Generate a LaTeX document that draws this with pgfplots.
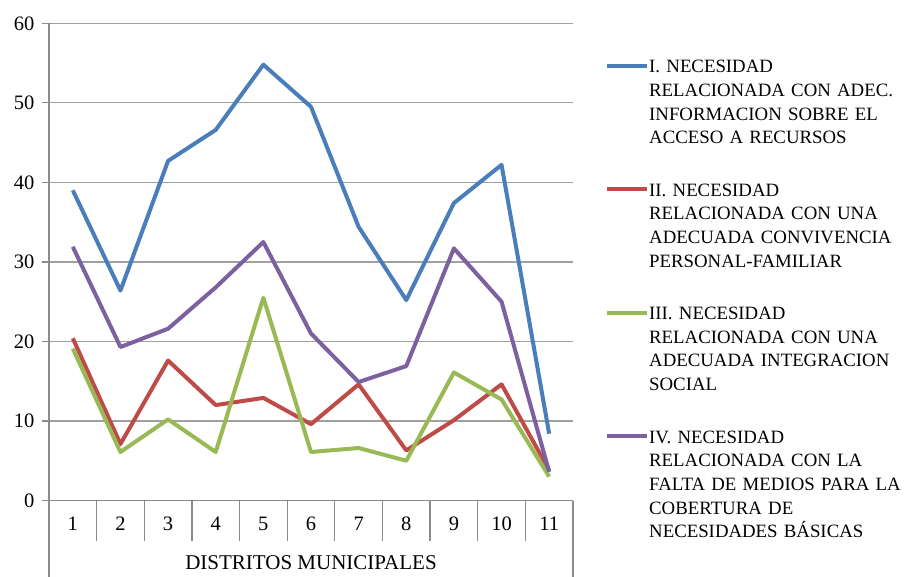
\documentclass[border=0pt]{standalone}
\usepackage{pgfplots}
\pgfplotsset{compat=1.18}
\usepackage{fontspec}
\setmainfont{Liberation Serif}
\definecolor{cI}{HTML}{4A7EBB}
\definecolor{cII}{HTML}{BE4B48}
\definecolor{cIII}{HTML}{98B954}
\definecolor{cIV}{HTML}{7D60A0}
\definecolor{gridc}{HTML}{A0A0A0}
\definecolor{axc}{HTML}{8C8C8C}
\begin{document}
\begin{tikzpicture}
\begin{axis}[
  at={(0,0)}, anchor=south west,
  scale only axis, width=524pt, height=477.2pt,
  xmin=0.5, xmax=11.5, ymin=0, ymax=60,
  xtick={1,...,11},
  minor xtick={0.5,1.5,...,11.5},
  major x tick style={draw=none},
  ytick={0,10,...,60},
  tick align=outside,
  major tick length=7pt,
  minor tick length=40pt,
  axis x line*=bottom, axis y line*=left,
  axis line style={axc, line width=1.2pt, -},
  every tick/.style={axc, line width=1.2pt},
  ymajorgrids,
  grid style={gridc, line width=1.2pt},
  clip=false,
  /pgf/number format/assume math mode=true,
  tick label style={font=\fontsize{20.5}{24}\selectfont, text=black},
  yticklabel style={xshift=-4pt},
  xticklabel style={yshift=-6pt},
  xlabel={DISTRITOS MUNICIPALES},
  x label style={at={(axis description cs:0.5,0)}, anchor=north, yshift=-52pt, font=\fontsize{21}{25}\selectfont},
  legend image code/.code={\draw[#1] (0pt,7pt) -- (40pt,7pt);},
  legend style={draw=none, fill=none, inner sep=0pt, at={(rel axis cs:1,1)}, anchor=north west,
    xshift=32pt, yshift=-36.7pt, row sep=109.5pt, column sep=0pt,
    font=\fontsize{18.8}{23.7}\selectfont,
    cells={anchor=base west},
    nodes={text width=258pt, align=left, inner sep=0pt}},
  every axis plot/.append style={line width=4pt, line join=round, mark=none},
]
\addplot[cI] coordinates {(1,39.0) (2,26.4) (3,42.7) (4,46.6) (5,54.8) (6,49.5) (7,34.4) (8,25.2) (9,37.4) (10,42.2) (11,8.4)};
\addlegendentry{I. NECESIDAD\\RELACIONADA CON ADEC.\\INFORMACION SOBRE EL\\ACCESO A RECURSOS}
\addplot[cII] coordinates {(1,20.4) (2,7.1) (3,17.6) (4,12.0) (5,12.9) (6,9.6) (7,14.6) (8,6.3) (9,10.1) (10,14.6) (11,3.8)};
\addlegendentry{II. NECESIDAD\\RELACIONADA CON UNA\\ADECUADA CONVIVENCIA\\PERSONAL-FAMILIAR}
\addplot[cIII] coordinates {(1,19.1) (2,6.1) (3,10.2) (4,6.1) (5,25.5) (6,6.1) (7,6.6) (8,5.0) (9,16.1) (10,12.7) (11,3.0)};
\addlegendentry{III. NECESIDAD\\RELACIONADA CON UNA\\ADECUADA INTEGRACION\\SOCIAL}
\addplot[cIV] coordinates {(1,31.9) (2,19.3) (3,21.6) (4,26.8) (5,32.5) (6,21.0) (7,14.9) (8,16.9) (9,31.7) (10,25.0) (11,3.6)};
\addlegendentry{IV. NECESIDAD\\RELACIONADA CON LA\\FALTA DE MEDIOS PARA LA\\COBERTURA DE\\NECESIDADES BÁSICAS}
\draw[axc, line width=1.2pt] (rel axis cs:0,0) -- ++(0pt,-76pt);
\draw[axc, line width=1.2pt] (rel axis cs:1,0) -- ++(0pt,-76pt);
\end{axis}
\pgfresetboundingbox
\path (-49pt,-76pt) rectangle (855pt,500.5pt);
\end{tikzpicture}
\end{document}
